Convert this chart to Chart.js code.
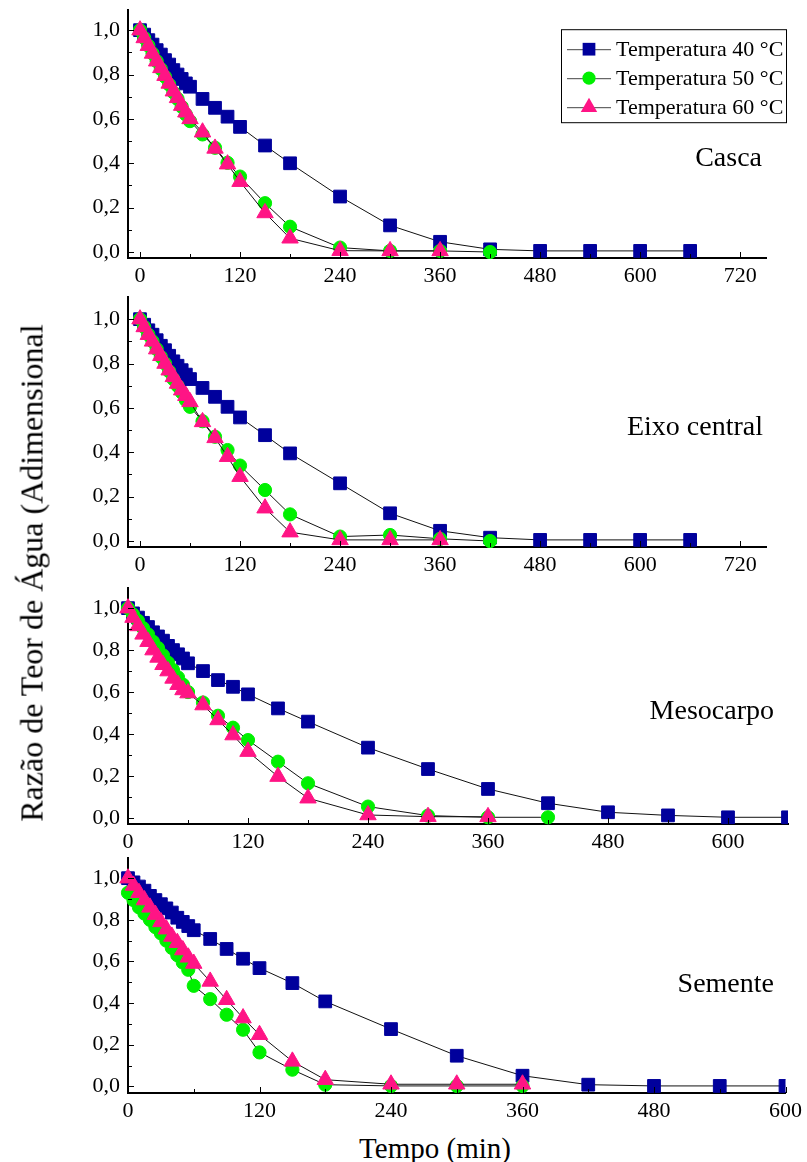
<!DOCTYPE html>
<html><head><meta charset="utf-8">
<script src="https://cdn.jsdelivr.net/npm/chart.js@4.4.1/dist/chart.umd.min.js"></script>
<style>
html,body{margin:0;padding:0;background:#fff;width:807px;height:1162px;overflow:hidden;position:relative;font-family:"Liberation Serif","Times New Roman",serif;color:#000;}
canvas{position:absolute;left:0;}
#ytitle{position:absolute;left:32px;top:573px;transform:translate(-50%,-50%) rotate(-90deg);white-space:nowrap;font-size:32px;}
#xtitle{position:absolute;left:435px;top:1148px;transform:translate(-50%,-50%);white-space:nowrap;font-size:29px;}
</style></head><body>
<canvas id="p1" width="807" height="294"></canvas>
<canvas id="p2" width="807" height="296"></canvas>
<canvas id="p3" width="807" height="282"></canvas>
<canvas id="p4" width="807" height="281"></canvas>
<div id="ytitle">Razão de Teor de Água (Adimensional</div>
<div id="xtitle">Tempo (min)</div>
<script>
// ---------- DATA ----------
const seriesLabels = ['Temperatura 40 °C','Temperatura 50 °C','Temperatura 60 °C'];
const panelNames = ['Casca','Eixo central','Mesocarpo','Semente'];
const yTickValues = [0,0.2,0.4,0.6,0.8,1.0];
const yMinorValues = [0.1,0.3,0.5,0.7,0.9];
const xTicks720 = [0,120,240,360,480,600,720];
const xTicks600 = [0,120,240,360,480,600];
const xMinor720 = [60,180,300,420,540,660];
const xMinor600 = [60,180,300,420,540];

const t40 = [0,5,10,15,20,25,30,35,40,45,50,55,60,75,90,105,120,150,180,240,300,360,420,480,540,600,660];
const t50 = [0,5,10,15,20,25,30,35,40,45,50,55,60,75,90,105,120,150,180,240,300,360,420];
const t60 = [0,5,10,15,20,25,30,35,40,45,50,55,60,75,90,105,120,150,180,240,300,360];
const t40s = [0,5,10,15,20,25,30,35,40,45,50,55,60,75,90,105,120,150,180,240,300,360,420,480,540,600];
const t50s = [0,5,10,15,20,25,30,35,40,45,50,55,60,75,90,105,120,150,180,240,300,360];
const t60s = [0,5,10,15,20,25,30,35,40,45,50,55,60,75,90,105,120,150,180,240,300,360];

const casca40 = [1.00,0.98,0.955,0.935,0.91,0.89,0.865,0.845,0.82,0.80,0.78,0.76,0.745,0.69,0.65,0.61,0.564,0.48,0.40,0.25,0.12,0.046,0.012,0.005,0.005,0.005,0.005];
const casca50 = [1.00,0.965,0.93,0.895,0.86,0.825,0.79,0.755,0.72,0.69,0.655,0.62,0.59,0.53,0.47,0.402,0.34,0.22,0.114,0.02,0.005,0.005,0.0];
const casca60 = [1.00,0.965,0.93,0.895,0.86,0.83,0.795,0.76,0.725,0.695,0.66,0.63,0.60,0.54,0.467,0.396,0.317,0.176,0.062,0.006,0.005,0.005];

const eixo40 = [1.00,0.975,0.95,0.93,0.905,0.88,0.86,0.835,0.81,0.79,0.77,0.75,0.73,0.69,0.65,0.605,0.557,0.477,0.395,0.26,0.125,0.046,0.015,0.005,0.005,0.005,0.005];
const eixo50 = [1.00,0.965,0.93,0.9,0.865,0.83,0.8,0.765,0.73,0.7,0.67,0.635,0.605,0.54,0.47,0.41,0.34,0.23,0.12,0.02,0.027,0.01,0.0];
const eixo60 = [1.00,0.965,0.93,0.9,0.865,0.835,0.8,0.77,0.74,0.71,0.68,0.655,0.627,0.537,0.465,0.38,0.29,0.148,0.04,0.005,0.005,0.005];

const meso40 = [1.00,0.975,0.955,0.93,0.91,0.885,0.865,0.845,0.82,0.8,0.78,0.76,0.737,0.70,0.657,0.625,0.589,0.522,0.459,0.335,0.233,0.138,0.07,0.027,0.012,0.003,0.003];
const meso50 = [1.0,0.97,0.94,0.905,0.875,0.84,0.81,0.775,0.74,0.705,0.67,0.635,0.60,0.55,0.487,0.43,0.371,0.268,0.165,0.054,0.011,0.003,0.003];
const meso60 = [1.0,0.955,0.915,0.875,0.84,0.80,0.765,0.73,0.70,0.665,0.635,0.61,0.595,0.538,0.467,0.395,0.316,0.197,0.094,0.014,0.006,0.005];

const sem40 = [1.00,0.98,0.96,0.94,0.915,0.895,0.875,0.855,0.835,0.81,0.79,0.77,0.75,0.708,0.66,0.613,0.568,0.496,0.408,0.275,0.147,0.051,0.008,0.002,0.002,0.002];
const sem50 = [0.93,0.895,0.86,0.83,0.80,0.765,0.735,0.70,0.665,0.63,0.595,0.56,0.483,0.419,0.344,0.272,0.163,0.08,0.008,0.002,0.002,0.002];
const sem60 = [1.00,0.965,0.93,0.895,0.86,0.825,0.79,0.755,0.72,0.69,0.655,0.62,0.59,0.504,0.416,0.328,0.248,0.12,0.032,0.01,0.01,0.01];

// ---------- STYLE ----------
const FONT = '"Liberation Serif","Times New Roman",serif';
Chart.defaults.font.family = FONT;
Chart.defaults.color = '#000';
const styles = [
  {pointStyle:'rect', radius:9, color:'#00009C', order:3},
  {pointStyle:'circle', radius:6.6, color:'#00F000', order:2},
  {pointStyle:'triangle', radius:9.5, color:'#FF1485', order:1}
];

function mkDataset(i, ts, vs){
  const s = styles[i];
  return {
    label: seriesLabels[i],
    data: ts.map((t,k)=>({x:t, y:vs[k]})),
    showLine:true, tension:0,
    borderColor:'#111', borderWidth:1,
    pointStyle:s.pointStyle, pointRadius:s.radius, pointHoverRadius:s.radius,
    pointBackgroundColor:s.color, pointBorderColor:s.color, pointBorderWidth:1,
    order:s.order,
    clip:{left:20, top:20, right:0, bottom:20}
  };
}

const inTicks = {
  id:'inTicks',
  afterDatasetsDraw(chart, args, o){
    const {ctx, chartArea:a, scales:{x, y}} = chart;
    ctx.save(); ctx.strokeStyle='#000'; ctx.lineWidth=1;
    const vt = (v, len)=>{const p=Math.round(x.getPixelForValue(v))+0.5; ctx.beginPath(); ctx.moveTo(p,a.bottom); ctx.lineTo(p,a.bottom-len); ctx.stroke();};
    const ht = (v, len)=>{const p=Math.round(y.getPixelForValue(v))+0.5; ctx.beginPath(); ctx.moveTo(a.left,p); ctx.lineTo(a.left+len,p); ctx.stroke();};
    o.xMajor.forEach(v=>vt(v,6)); o.xMinor.forEach(v=>vt(v,4));
    yTickValues.forEach(v=>ht(v,6)); yMinorValues.forEach(v=>ht(v,4));
    ctx.restore();
  }
};

const panelLabel = {
  id:'panelLabel',
  afterDraw(chart, args, o){
    const ctx = chart.ctx;
    const off = parseFloat(chart.canvas.style.top) || 0;
    ctx.save(); ctx.font = '28px '+FONT; ctx.fillStyle='#000';
    ctx.textAlign='right'; ctx.textBaseline='middle';
    ctx.fillText(o.text, o.x, o.y - off);
    ctx.restore();
  }
};

function drawMarker(ctx, s, x, y){
  ctx.fillStyle = s.color;
  ctx.beginPath();
  if (s.pointStyle==='rect'){ const h=s.radius*Math.SQRT1_2; ctx.rect(x-h,y-h,2*h,2*h); }
  else if (s.pointStyle==='circle'){ ctx.arc(x,y,s.radius,0,Math.PI*2); }
  else { const r=s.radius; ctx.moveTo(x,y-r); ctx.lineTo(x+r*0.866,y+r/2); ctx.lineTo(x-r*0.866,y+r/2); ctx.closePath(); }
  ctx.fill();
}

const boxLegend = {
  id:'boxLegend',
  afterDraw(chart, args, o){
    if(!o.show) return;
    const ctx = chart.ctx;
    const off = parseFloat(chart.canvas.style.top) || 0;
    const y0 = o.y - off;
    ctx.save();
    ctx.fillStyle='#fff'; ctx.fillRect(o.x, y0, o.w, o.h);
    ctx.strokeStyle='#000'; ctx.lineWidth=1; ctx.strokeRect(o.x+0.5, y0+0.5, o.w, o.h);
    chart.data.datasets.forEach((ds, i)=>{
      const cy = y0 + 20 + i*29;
      ctx.strokeStyle='#444'; ctx.lineWidth=1;
      ctx.beginPath(); ctx.moveTo(o.x+6, cy+0.5); ctx.lineTo(o.x+50, cy+0.5); ctx.stroke();
      drawMarker(ctx, styles[i], o.x+28, cy);
      ctx.fillStyle='#000'; ctx.font='22px '+FONT; ctx.textAlign='left'; ctx.textBaseline='middle';
      ctx.fillText(ds.label, o.x+55, cy+1);
    });
    ctx.restore();
  }
};

function makePanel(id, g, sets, name, labelPos, legend){
  const cv = document.getElementById(id);
  const PADT = 12, XH = 34;
  cv.style.top = (g.top - PADT) + 'px';
  cv.height = PADT + (g.bottom - g.top) + XH;
  const chart = new Chart(cv, {
    type:'scatter',
    data:{datasets:sets},
    plugins:[inTicks, panelLabel, boxLegend],
    options:{
      responsive:false, maintainAspectRatio:false, animation:false, events:[],
      layout:{padding:{left:0, top:PADT, right:807-g.right, bottom:0}},
      plugins:{
        legend:{display:false}, tooltip:{enabled:false},
        inTicks:{xMajor:g.xTicks, xMinor:g.xMinor},
        panelLabel:{text:name, x:labelPos[0], y:labelPos[1]},
        boxLegend: legend ? Object.assign({show:true}, legend) : {show:false}
      },
      scales:{
        x:{type:'linear', min:g.xmin, max:g.xmax,
           afterFit:(s)=>{s.height = XH;},
           afterBuildTicks:(s)=>{s.ticks = g.xTicks.map(v=>({value:v}));},
           grid:{display:false, drawTicks:false},
           border:{display:true, color:'#000', width:2},
           ticks:{font:{size:22}, padding:5, maxRotation:0, autoSkip:false, callback:(v)=>String(v)}},
        y:{type:'linear', min:g.ymin, max:g.ymax,
           afterFit:(s)=>{s.width = g.left;},
           afterBuildTicks:(s)=>{s.ticks = yTickValues.map(v=>({value:v}));},
           grid:{display:false, drawTicks:false},
           border:{display:true, color:'#000', width:2},
           ticks:{font:{size:22}, padding:8, callback:(v)=>Number(v).toFixed(1).replace('.',',')}}
      }
    }
  });
  // align the plot area with the intended page position
  for (let k=0; k<4; k++){
    const a = chart.chartArea;
    const wantH = Math.round(a.top + (g.bottom - g.top) + (cv.height - a.bottom));
    cv.style.top = (g.top - a.top) + 'px';
    if (Math.abs(wantH - cv.height) >= 1) chart.resize(807, wantH);
    else break;
  }
  cv.style.top = (g.top - chart.chartArea.top) + 'px';
  chart.update('none');
  return chart;
}

makePanel('p1', {top:10, bottom:258, left:128, right:766, xmin:-14.4, xmax:751, ymin:-0.027, ymax:1.09, xTicks:xTicks720, xMinor:xMinor720},
  [mkDataset(0,t40,casca40), mkDataset(1,t50,casca50), mkDataset(2,t60,casca60)],
  panelNames[0], [762,158], {x:561, y:29, w:225, h:93});
makePanel('p2', {top:297, bottom:547, left:128, right:766, xmin:-14.4, xmax:751, ymin:-0.027, ymax:1.099, xTicks:xTicks720, xMinor:xMinor720},
  [mkDataset(0,t40,eixo40), mkDataset(1,t50,eixo50), mkDataset(2,t60,eixo60)],
  panelNames[1], [763,427], null);
makePanel('p3', {top:588, bottom:824, left:128, right:788, xmin:0, xmax:660, ymin:-0.029, ymax:1.095, xTicks:xTicks600, xMinor:xMinor600},
  [mkDataset(0,t40,meso40), mkDataset(1,t50,meso50), mkDataset(2,t60,meso60)],
  panelNames[2], [774,711], null);
makePanel('p4', {top:858, bottom:1093, left:128, right:787, xmin:0, xmax:600, ymin:-0.032, ymax:1.096, xTicks:xTicks600, xMinor:xMinor600},
  [mkDataset(0,t40s,sem40), mkDataset(1,t50s,sem50), mkDataset(2,t60s,sem60)],
  panelNames[3], [774,984], null);
</script>
</body></html>
